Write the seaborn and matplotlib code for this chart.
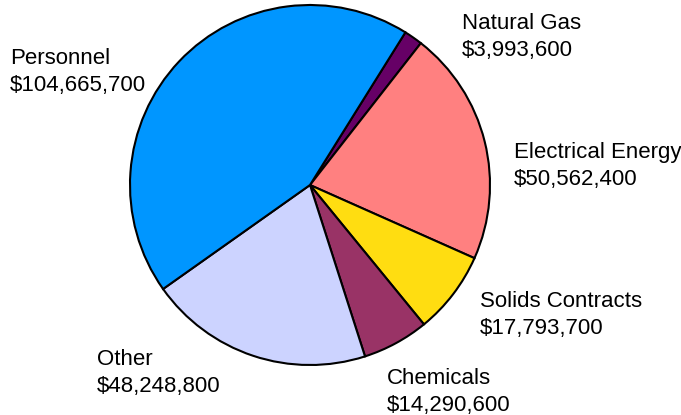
import matplotlib
matplotlib.use("Agg")
import matplotlib.pyplot as plt
import seaborn as sns

categories = ["Natural Gas", "Electrical Energy", "Solids Contracts", "Chemicals", "Other", "Personnel"]
values = [3993600, 50562400, 17793700, 14290600, 48248800, 104665700]
colors = ["#660066", "#FF8080", "#FFDD11", "#993366", "#CCD3FF", "#0096FF"]

# label anchor (left, top) in pixel coords of the 681x415 image
label_pos = {
    "Natural Gas": (462, 13),
    "Electrical Energy": (514, 142),
    "Solids Contracts": (480, 291),
    "Chemicals": (387, 368),
    "Other": (97, 349),
    "Personnel": (10, 48),
}

sns.set_theme(style="white")
plt.rcParams["font.family"] = ["Liberation Sans", "DejaVu Sans"]

W, H = 681, 415
cx, cy, R = 310, 185, 180
fig = plt.figure(figsize=(W / 100, H / 100), dpi=100)
ax = fig.add_axes([0, 0, 1, 1])
ax.pie(values, colors=colors, startangle=58, counterclock=False, radius=R,
       wedgeprops=dict(edgecolor="black", linewidth=1.5))
ax.set_xlim(-cx, W - cx)
ax.set_ylim(-(H - cy), cy)
ax.set_aspect("equal")
ax.axis("off")

for cat, v in zip(categories, values):
    px, py = label_pos[cat]
    ax.text(px - cx, cy - py, f"{cat}\n${v:,.0f}", ha="left", va="top",
            fontsize=16, color="black", linespacing=1.38)

fig.savefig("out.png", dpi=100)
